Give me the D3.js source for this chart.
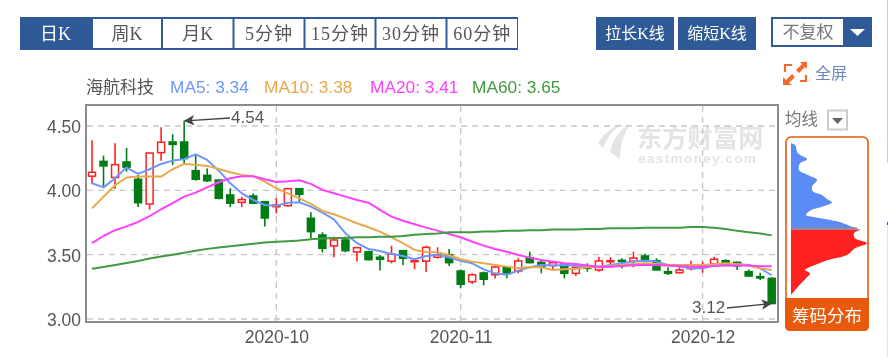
<!DOCTYPE html>
<html>
<head>
<meta charset="utf-8">
<script src="https://cdn.jsdelivr.net/npm/d3@7"></script>
<style>
  html, body { margin: 0; padding: 0; background: #fff; overflow: hidden; }
  svg { display: block; filter: blur(0.45px); }
  text { font-family: "Liberation Sans", "Noto Sans CJK SC", sans-serif; }
  .serif { font-family: "Liberation Serif", "Noto Sans CJK SC", serif; }
</style>
</head>
<body>
<div id="content"></div>
<script>
const dates = ['2020-09-09','2020-09-10','2020-09-11','2020-09-14','2020-09-15','2020-09-16','2020-09-17','2020-09-18','2020-09-21','2020-09-22','2020-09-23','2020-09-24','2020-09-25','2020-09-28','2020-09-29','2020-09-30',
  '2020-10-09','2020-10-12','2020-10-13','2020-10-14','2020-10-15','2020-10-16','2020-10-19','2020-10-20','2020-10-21','2020-10-22','2020-10-23','2020-10-26','2020-10-27','2020-10-28','2020-10-29','2020-10-30',
  '2020-11-02','2020-11-03','2020-11-04','2020-11-05','2020-11-06','2020-11-09','2020-11-10','2020-11-11','2020-11-12','2020-11-13','2020-11-16','2020-11-17','2020-11-18','2020-11-19','2020-11-20','2020-11-23','2020-11-24','2020-11-25','2020-11-26','2020-11-27','2020-11-30',
  '2020-12-01','2020-12-02','2020-12-03','2020-12-04','2020-12-07','2020-12-08','2020-12-09'];
const opens = [4.11,4.225,4.10,4.22,4.086,3.894,4.293,4.376,4.376,4.153,4.117,4.08,3.964,3.907,3.956,3.912,3.873,3.881,4.013,3.783,3.653,3.568,3.614,3.521,3.523,3.48,3.449,3.531,3.45,3.449,3.48,3.50,3.373,3.29,3.358,3.344,3.402,3.373,3.477,3.44,3.415,3.428,3.355,3.404,3.381,3.446,3.456,3.449,3.49,3.453,3.368,3.36,3.391,3.402,3.428,3.453,3.44,3.368,3.329,3.316];
const closes = [4.14,4.19,4.20,4.18,3.904,4.29,4.374,4.357,4.247,4.086,4.075,3.938,3.90,3.928,3.90,3.785,3.886,4.013,3.969,3.679,3.549,3.614,3.531,3.554,3.461,3.464,3.505,3.472,3.453,3.557,3.498,3.438,3.27,3.344,3.309,3.404,3.358,3.451,3.438,3.407,3.438,3.355,3.399,3.394,3.451,3.453,3.446,3.474,3.453,3.381,3.355,3.381,3.407,3.42,3.464,3.438,3.412,3.334,3.319,3.12];
const highs = [4.39,4.27,4.366,4.33,4.12,4.29,4.49,4.436,4.54,4.275,4.17,4.08,4.016,3.95,3.977,3.912,3.94,4.013,4.013,3.83,3.674,3.64,3.64,3.562,3.531,3.498,3.57,3.531,3.459,3.57,3.557,3.544,3.386,3.355,3.368,3.412,3.412,3.472,3.523,3.46,3.453,3.433,3.42,3.433,3.484,3.48,3.472,3.523,3.51,3.472,3.402,3.42,3.453,3.446,3.484,3.464,3.446,3.386,3.36,3.324];
const lows = [4.05,4.03,4.01,4.145,3.87,3.85,4.23,4.197,4.21,4.075,4.065,3.93,3.87,3.87,3.894,3.718,3.82,3.873,3.912,3.627,3.516,3.48,3.519,3.446,3.457,3.376,3.433,3.42,3.386,3.365,3.469,3.412,3.239,3.272,3.262,3.316,3.316,3.355,3.433,3.355,3.381,3.316,3.334,3.368,3.368,3.412,3.394,3.402,3.453,3.381,3.342,3.355,3.376,3.36,3.42,3.42,3.381,3.329,3.303,3.12];
const ma5 = [4.055,4.023,4.094,4.177,4.128,4.164,4.205,4.231,4.242,4.28,4.236,4.153,4.055,3.977,3.925,3.886,3.881,3.904,3.907,3.873,3.826,3.775,3.666,3.589,3.544,3.529,3.505,3.49,3.464,3.49,3.498,3.48,3.453,3.433,3.386,3.355,3.344,3.376,3.402,3.42,3.415,3.42,3.412,3.407,3.404,3.42,3.433,3.446,3.453,3.446,3.42,3.407,3.394,3.394,3.415,3.428,3.428,3.42,3.394,3.34];
const ma10 = [3.86,3.95,4.04,4.10,4.107,4.107,4.107,4.164,4.205,4.198,4.19,4.166,4.14,4.12,4.11,4.068,4.016,3.977,3.938,3.894,3.84,3.814,3.78,3.744,3.713,3.679,3.635,3.589,3.537,3.521,3.519,3.495,3.464,3.446,3.433,3.42,3.407,3.394,3.402,3.402,3.381,3.386,3.391,3.402,3.407,3.412,3.42,3.428,3.433,3.428,3.42,3.42,3.42,3.42,3.425,3.433,3.425,3.415,3.394,3.38];
const ma20 = [3.59,3.645,3.69,3.72,3.754,3.80,3.853,3.90,3.951,3.982,4.023,4.063,4.094,4.11,4.11,4.086,4.065,4.07,4.078,4.05,4.003,3.977,3.951,3.925,3.904,3.848,3.796,3.764,3.736,3.71,3.687,3.661,3.635,3.60,3.57,3.544,3.523,3.498,3.477,3.459,3.446,3.433,3.428,3.415,3.407,3.407,3.412,3.417,3.42,3.42,3.415,3.412,3.407,3.407,3.412,3.415,3.415,3.415,3.41,3.41];
const ma60 = [3.39,3.405,3.42,3.435,3.45,3.47,3.485,3.50,3.515,3.53,3.545,3.555,3.565,3.575,3.585,3.595,3.60,3.605,3.61,3.62,3.625,3.63,3.63,3.635,3.635,3.64,3.64,3.645,3.655,3.66,3.665,3.675,3.675,3.675,3.68,3.68,3.685,3.685,3.69,3.69,3.695,3.695,3.695,3.70,3.70,3.705,3.705,3.705,3.71,3.71,3.71,3.71,3.715,3.715,3.71,3.70,3.685,3.675,3.665,3.65];
const yTicks = [3.0, 3.5, 4.0, 4.5];
const xTicks = ['2020-10-09','2020-11-02','2020-12-01'];
const tabLabels = ['日K','周K','月K','5分钟','15分钟','30分钟','60分钟'];
const legendNames = ['MA5: 3.34','MA10: 3.38','MA20: 3.41','MA60: 3.65'];
// chip distribution: price level and share, blue part then red part
const chipPricesUp = [4.366,4.353,4.288,4.242,4.21,4.159,4.12,4.081,4.029,3.99,3.964,3.933,3.905,3.873,3.842,3.809,3.791,3.757,3.723,3.695];
const chipVolUp = [0,4,7,16,9,8,17,26,21,22,31,36,41,31,19,15,24,47,59,69];
const chipPricesDown = [3.695,3.666,3.627,3.589,3.55,3.498,3.459,3.42,3.381,3.355,3.316,3.251,3.187];
const chipVolDown = [70,63,64,76,64,56,37,24,14,19,15,7,0];

const width = 888, height = 357;
const blue = '#2f5a96', red = '#ff2020', green = '#007c14';
const grey = '#555';

const svg = d3.select('#content').append('svg').attr('width', width).attr('height', height);

const x = d3.scalePoint().domain(dates).range([92, 771.7]);
const y = d3.scaleLinear().domain([3, 4.5]).range([319, 126]);

// top tabs
const tabEdges = [20, 92, 162, 233.5, 304.5, 375.5, 446.5, 518];
svg.append('rect').attr('x', 20).attr('y', 17).attr('width', 498).attr('height', 33).attr('fill', blue);
tabLabels.forEach((t, i) => {
    const x0 = tabEdges[i] + (i ? 1 : 0), x1 = tabEdges[i + 1] - 1;
    if (i > 0) {
        svg.append('rect').attr('x', x0).attr('y', 19).attr('width', x1 - x0).attr('height', 29).attr('fill', '#fff');
    }
    svg.append('text').attr('class', 'serif')
       .attr('x', (x0 + x1) / 2).attr('y', 40)
       .attr('text-anchor', 'middle')
       .attr('font-size', 18).attr('letter-spacing', i < 3 ? 0 : 1)
       .attr('fill', i ? grey : '#fff')
       .text(t);
});

// right buttons
[['拉长K线', 596, 78], ['缩短K线', 678, 78]].forEach(b => {
    svg.append('rect').attr('x', b[1]).attr('y', 17).attr('width', b[2]).attr('height', 33).attr('fill', blue);
    svg.append('text').attr('class', 'serif').attr('x', b[1] + b[2] / 2).attr('y', 39)
       .attr('text-anchor', 'middle').attr('font-size', 16).attr('fill', '#fff').text(b[0]);
});
svg.append('rect').attr('x', 771).attr('y', 17).attr('width', 101).attr('height', 30).attr('fill', blue);
svg.append('rect').attr('x', 773).attr('y', 19).attr('width', 70).attr('height', 26).attr('fill', '#fff');
svg.append('text').attr('x', 808).attr('y', 38).attr('text-anchor', 'middle').attr('font-size', 17).attr('fill', '#777').text('不复权');
svg.append('path').attr('d', 'M850,29H865L857.5,36Z').attr('fill', '#fff');

// fullscreen link
svg.append('path')
   .attr('d', 'M785,72V65H792M806,75V81H800')
   .attr('fill', 'none').attr('stroke', '#f26a2e').attr('stroke-width', 2.2);
svg.append('path')
   .attr('d', 'M800,62H807V69L805,67L799,73L796,70L802,64ZM783,85V77L786,80L792,74L795,77L789,83L792,85Z')
   .attr('fill', '#f26a2e');
svg.append('text').attr('x', 815).attr('y', 79).attr('font-size', 16).attr('fill', '#6c86bd').text('全屏');

// legend row
svg.append('text').attr('x', 86).attr('y', 93).attr('font-size', 17).attr('fill', grey).text('海航科技');
const lineColors = ['#6c97ff', '#e9a94a', '#ff40ff', '#3f9b3f'];
const legendX = [170, 264, 370, 472];
legendNames.forEach((n, i) => {
    svg.append('text').attr('x', legendX[i]).attr('y', 93).attr('font-size', 17.3).attr('fill', lineColors[i]).text(n);
});

// watermark
const mark = svg.append('g').attr('fill', '#e4e4e4').style('filter', 'blur(0.7px)');
mark.append('path').attr('d', 'M598,143C606,131 614,126 621,124C612,131 607,139 603,148Z M610,152C613,139 620,129 630,124C624,134 620,144 620,159Z');
mark.append('text').attr('x', 637).attr('y', 147).attr('font-size', 25).attr('font-weight', 'bold').attr('letter-spacing', 0.3).text('东方财富网');
mark.append('text').attr('x', 638).attr('y', 163).attr('font-size', 13.5).attr('font-weight', 'bold').attr('letter-spacing', 1.4).text('eastmoney.com');

// grid
svg.append('g').selectAll('line').data(yTicks).enter().append('line')
   .attr('x1', 87).attr('x2', 778).attr('y1', d => y(d)).attr('y2', d => y(d))
   .attr('stroke', '#c8c8c8').attr('stroke-width', 1.4).attr('stroke-dasharray', '6,5');
svg.append('g').selectAll('line').data(xTicks).enter().append('line')
   .attr('x1', d => x(d)).attr('x2', d => x(d)).attr('y1', 106).attr('y2', 321)
   .attr('stroke', '#c8c8c8').attr('stroke-width', 1.4).attr('stroke-dasharray', '6,5');

// axes
const yAxis = svg.append('g').attr('transform', 'translate(86,1)')
    .call(d3.axisLeft(y).tickValues(yTicks).tickSize(0).tickPadding(5).tickFormat(d3.format('.2f')));
const xAxis = svg.append('g').attr('transform', 'translate(0,323)')
    .call(d3.axisBottom(x).tickValues(xTicks).tickSize(0).tickPadding(8).tickFormat(d => d.slice(0, 7)));
[yAxis, xAxis].forEach(a => {
    a.select('.domain').remove();
    a.selectAll('text').attr('font-size', 17.5).attr('fill', grey)
     .attr('font-family', '"Liberation Sans", sans-serif');
});

// candles
const bodyW = 7;
const candles = svg.append('g').selectAll('g').data(dates).enter().append('g');
candles.append('line')
   .attr('x1', d => x(d)).attr('x2', d => x(d))
   .attr('y1', (d, i) => y(highs[i])).attr('y2', (d, i) => y(lows[i]))
   .attr('stroke', (d, i) => closes[i] >= opens[i] ? red : green)
   .attr('stroke-width', 1.6);
candles.append('rect')
   .attr('x', d => x(d) - bodyW / 2)
   .attr('width', bodyW)
   .attr('y', (d, i) => y(Math.max(opens[i], closes[i])))
   .attr('height', (d, i) => Math.max(1, Math.abs(y(opens[i]) - y(closes[i]))))
   .attr('fill', (d, i) => closes[i] >= opens[i] ? '#fff' : green)
   .attr('stroke', (d, i) => closes[i] >= opens[i] ? red : green)
   .attr('stroke-width', 1.5);

// moving averages
const line = d3.line().x((d, i) => x(dates[i])).y(d => y(d));
[ma5, ma10, ma20, ma60].forEach((s, i) => {
    svg.append('path').datum(s).attr('d', line).attr('fill', 'none')
       .attr('stroke', lineColors[i]).attr('stroke-width', 2)
       .attr('stroke-linejoin', 'round');
});

// frame
svg.append('rect').attr('x', 86).attr('y', 105).attr('width', 692).attr('height', 217)
   .attr('fill', 'none').attr('stroke', '#8c8c8c').attr('stroke-width', 2);

// high / low notes
const maxIdx = highs.indexOf(d3.max(highs)), minIdx = lows.indexOf(d3.min(lows));
svg.append('defs').append('marker').attr('id', 'tip').attr('viewBox', '0 0 8 8')
   .attr('refX', 7).attr('refY', 4).attr('markerWidth', 8).attr('markerHeight', 8).attr('orient', 'auto')
   .append('path').attr('d', 'M0,0L8,4L0,8L2,4Z').attr('fill', '#444');
svg.append('line').attr('x1', 230).attr('y1', 118).attr('x2', x(dates[maxIdx]) + 1).attr('y2', y(highs[maxIdx]))
   .attr('stroke', '#444').attr('stroke-width', 1.3).attr('marker-end', 'url(#tip)');
svg.append('text').attr('x', 231).attr('y', 123).attr('font-size', 17).attr('fill', grey).text(d3.format('.2f')(highs[maxIdx]));
svg.append('line').attr('x1', 727).attr('y1', 308).attr('x2', x(dates[minIdx]) - 1).attr('y2', y(lows[minIdx]))
   .attr('stroke', '#444').attr('stroke-width', 1.3).attr('marker-end', 'url(#tip)');
svg.append('text').attr('x', 692).attr('y', 313).attr('font-size', 17).attr('fill', grey).text(d3.format('.2f')(lows[minIdx]));

// chip panel
svg.append('text').attr('x', 785).attr('y', 125).attr('font-size', 16.5).attr('fill', '#777').text('均线');
svg.append('rect').attr('x', 828).attr('y', 110.5).attr('width', 19).attr('height', 19).attr('fill', '#fff').attr('stroke', '#ccc').attr('stroke-width', 2);
svg.append('path').attr('d', 'M832,118H843L837.5,124Z').attr('fill', '#666');

svg.append('rect').attr('x', 786).attr('y', 137).attr('width', 82).attr('height', 193).attr('rx', 5)
   .attr('fill', '#fff').attr('stroke', '#e8590c').attr('stroke-width', 1.6);
svg.append('path').attr('d', 'M785,298H869V326Q869,331 864,331H790Q785,331 785,326Z').attr('fill', '#e8590c');
svg.append('text').attr('x', 827).attr('y', 322).attr('text-anchor', 'middle').attr('font-size', 17.5)
   .attr('fill', '#fff').text('筹码分布');

const chipX = d3.scaleLinear().domain([0, 76]).range([791, 867]);
const chipArea = (prices) => d3.area()
    .x0(chipX(0))
    .x1(d => chipX(d))
    .y((d, i) => y(prices[i]))
    .curve(d3.curveCatmullRom);
svg.append('path').datum(chipVolUp).attr('d', chipArea(chipPricesUp)).attr('fill', '#5b8cf5');
svg.append('path').datum(chipVolDown).attr('d', chipArea(chipPricesDown)).attr('fill', '#ff2020');
svg.append('rect').attr('x', chipX(0)).attr('y', y(3.712)).attr('width', chipX(66) - chipX(0)).attr('height', y(3.695) - y(3.712)).attr('fill', '#8f8aa8');

// window edge
svg.append('line').attr('x1', 887.5).attr('x2', 887.5).attr('y1', 0).attr('y2', 163).attr('stroke', '#c9d0d8');
svg.append('line').attr('x1', 887.5).attr('x2', 887.5).attr('y1', 224).attr('y2', 357).attr('stroke', '#e3e6ea');
svg.append('line').attr('x1', 887.5).attr('x2', 887.5).attr('y1', 222).attr('y2', 225).attr('stroke', '#3a5a8a');
</script>
</body>
</html>
